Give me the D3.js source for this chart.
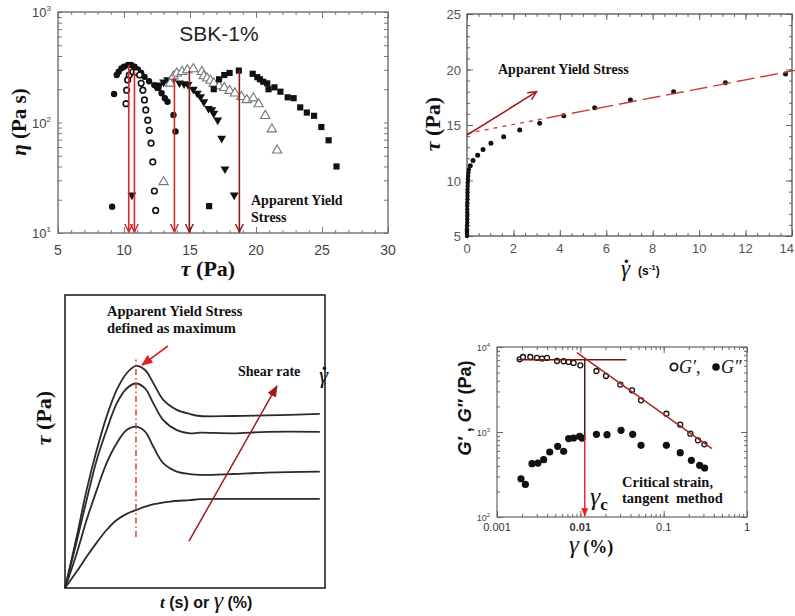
<!DOCTYPE html>
<html>
<head>
<meta charset="utf-8">
<script src="https://cdn.jsdelivr.net/npm/d3@7"></script>
<style>
  body { margin: 0; background: #fff; }
  .serif { font-family: "Liberation Serif", "Times New Roman", serif; font-weight: bold; }
  .sans { font-family: "Liberation Sans", Arial, sans-serif; }
</style>
</head>
<body>
<script>
// ---- Panel A: viscosity vs shear stress, SBK-1% ----
const tauFilled = [9.1, 9.25, 9.45, 9.6, 9.8, 10.0, 10.3, 10.55, 10.8, 11.05, 11.3, 11.55, 11.9, 12.3, 12.6, 12.85, 13.1, 13.3, 13.75, 13.9];
const etaFilled = [17.3, 181, 269, 288, 309, 320, 331, 331, 320, 302, 281, 259, 236, 218, 205, 184, 166, 154, 117, 83];
const tauOpen = [10.15, 10.2, 10.28, 10.4, 10.67, 10.92, 11.18, 11.3, 11.43, 11.55, 11.65, 11.8, 11.92, 12.05, 12.18, 12.3, 12.4];
const etaOpen = [148, 196, 243, 269, 288, 285, 269, 226, 196, 160, 130, 105, 85, 65, 44, 24, 16];
const tauDown = [10.6, 12.4, 12.7, 13.0, 13.3, 13.8, 14.2, 14.55, 14.85, 15.25, 15.55, 15.8, 16.05, 16.4, 16.65, 16.8, 17.1, 17.4, 17.65, 18.35];
const etaDown = [22, 212, 218, 232, 243, 252, 228, 224, 220, 200, 184, 171, 154, 134, 130, 121, 105, 72, 38, 22];
const tauUp = [13.0, 13.5, 13.75, 14.0, 14.4, 14.8, 15.25, 15.9, 16.05, 16.3, 16.55, 16.8, 17.2, 17.6, 18.0, 18.4, 18.9, 19.3, 19.8, 20.2, 20.7, 21.2, 21.6];
const etaUp = [29, 226, 262, 279, 288, 298, 305, 288, 263, 251, 240, 226, 213, 206, 194, 184, 171, 160, 166, 147, 115, 87, 56];
const tauSquare = [16.45, 16.8, 17.2, 17.6, 18.0, 18.7, 19.75, 20.1, 20.3, 20.55, 20.85, 20.95, 21.4, 21.85, 22.4, 22.85, 23.35, 23.85, 24.4, 24.95, 25.5, 26.1];
const etaSquare = [17.5, 200, 246, 269, 281, 295, 276, 257, 246, 234, 226, 200, 208, 190, 169, 166, 137, 123, 115, 91, 69, 40];
const yieldTau = [10.36, 10.79, 13.82, 14.95, 18.74];
const yieldEta = [331, 288, 259, 295, 298];
const tauTicks = [5, 10, 15, 20, 25, 30];

// ---- Panel B: flow curve ----
const rateLow = [0.0, 0.0, 0.0, 0.0, 0.0, 0.01, 0.01, 0.01, 0.01, 0.01, 0.01, 0.01, 0.02, 0.02, 0.02, 0.02, 0.03, 0.03, 0.04, 0.05, 0.06, 0.08];
const stressLow = [5.0, 5.2, 5.4, 5.6, 5.9, 6.2, 6.5, 6.8, 7.1, 7.4, 7.7, 8.0, 8.3, 8.6, 8.9, 9.2, 9.5, 9.8, 10.1, 10.4, 10.7, 11.0];
const rateHigh = [0.14, 0.26, 0.46, 0.69, 1.03, 1.58, 2.27, 3.13, 4.17, 5.5, 7.04, 8.9, 11.13, 13.72];
const stressHigh = [11.34, 11.8, 12.27, 12.8, 13.35, 13.95, 14.55, 15.15, 15.84, 16.56, 17.25, 18.0, 18.8, 19.6];
const fitRate = [0, 3.5, 14.2];
const fitStress = [14.25, 15.65, 19.95];
const arrowRate = [0, 3.0];
const arrowStress = [14.1, 18.0];
const rateTicks = [0, 2, 4, 6, 8, 10, 12, 14];
const stressTicks = [5, 10, 15, 20, 25];

// ---- Panel C: stress growth curves (arbitrary units) ----
const tC = [0, 0.45, 0.83, 1.22, 1.6, 1.99, 2.37, 2.73, 3.08, 3.4, 3.78, 4.3, 4.8, 5.2, 6.46, 7.77, 9.8];
const curve1 = [0, 1.75, 3.34, 4.71, 5.85, 6.76, 7.33, 7.58, 7.44, 6.99, 6.42, 6.08, 5.94, 5.87, 5.87, 5.89, 5.94];
const curve2 = [0, 1.59, 3.0, 4.37, 5.39, 6.3, 6.81, 6.98, 6.81, 6.3, 5.73, 5.39, 5.28, 5.3, 5.28, 5.33, 5.33];
const curve3 = [0, 1.18, 2.32, 3.34, 4.26, 4.94, 5.39, 5.51, 5.34, 4.82, 4.26, 3.97, 3.89, 3.86, 3.89, 3.94, 3.97];
const tC4 = [0, 0.45, 0.83, 1.22, 1.6, 1.99, 2.37, 2.73, 3.27, 4.04, 4.8, 5.2, 6.46, 9.8];
const curve4 = [0, 0.56, 1.07, 1.55, 1.98, 2.32, 2.53, 2.66, 2.83, 2.95, 3.0, 3.03, 3.04, 3.04];
const peakLineT = [2.73, 2.73];
const peakLineS = [1.74, 7.8];
const peakArrowT = [3.96, 2.96];
const peakArrowS = [8.26, 7.61];
const rateArrowT = [4.77, 8.15];
const rateArrowS = [1.6, 6.89];

// ---- Panel D: amplitude sweep ----
const strainG1 = [0.00187, 0.00205, 0.00251, 0.00302, 0.00347, 0.00398, 0.00525, 0.0063, 0.00724, 0.0083, 0.01, 0.0156, 0.0203, 0.0302, 0.0417, 0.0535, 0.1077, 0.158, 0.209, 0.258, 0.308];
const gPrime = [7160, 7630, 7630, 7430, 7300, 7430, 6840, 6800, 6670, 6490, 6090, 5220, 4560, 3610, 3090, 2360, 1640, 1220, 955, 798, 716];
const strainG2 = [0.00194, 0.00219, 0.00263, 0.0031, 0.00363, 0.00429, 0.00535, 0.0063, 0.00724, 0.0083, 0.0098, 0.0105, 0.0156, 0.0209, 0.0308, 0.0425, 0.0535, 0.1077, 0.158, 0.215, 0.27, 0.31];
const gDouble = [282, 242, 424, 431, 473, 582, 678, 593, 836, 850, 889, 849, 939, 931, 1047, 939, 697, 697, 571, 464, 405, 377];
const plateauStrain = [0.00174, 0.0357];
const plateauG = [7100, 7100];
const slopeStrain = [0.0091, 0.38];
const slopeG = [8580, 637];
const critStrain = 0.0113;
const critSplitG = [7100, 900, 103];
const strainTicks = [0.001, 0.01, 0.1, 1];
const modTicks = [100, 1000, 10000];

const W = 795, H = 616;
const svg = d3.select("body").append("svg").attr("width", W).attr("height", H)
  .style("background", "#fff");
const defs = svg.append("defs");

function marker(id, color, open, w, h) {
  const m = defs.append("marker").attr("id", id)
    .attr("viewBox", "0 -5 10 10").attr("refX", 9.5).attr("refY", 0)
    .attr("markerUnits", "userSpaceOnUse")
    .attr("markerWidth", w).attr("markerHeight", h).attr("orient", "auto");
  m.append("path")
    .attr("d", open ? "M0,-4.5L9.5,0L0,4.5" : "M0,-4L10,0L0,4Z")
    .attr("fill", open ? "none" : color)
    .attr("stroke", color).attr("stroke-width", open ? 1.6 : 0.5);
}
marker("vRed", "#d42a2a", true, 9, 9);
marker("vDark", "#8e1b1b", true, 9, 9);
marker("thinRed", "#b01818", true, 11, 9);
marker("headRed", "#e02020", false, 11, 11);
marker("headDark", "#9b1b1b", false, 11, 11);
marker("headSmall", "#e52020", false, 9, 8);

// inward tick marks on one side of a frame
function ticksIn(g, scale, orient, values, size, pos, color) {
  const fn = { bottom: d3.axisBottom, top: d3.axisTop, left: d3.axisLeft, right: d3.axisRight }[orient];
  const ax = fn(scale).tickValues(values).tickSize(-size).tickFormat("");
  const horiz = orient === "bottom" || orient === "top";
  const a = g.append("g").attr("transform", horiz ? `translate(0,${pos})` : `translate(${pos},0)`).call(ax);
  a.select(".domain").remove();
  a.selectAll("line").attr("stroke", color).attr("stroke-width", 1);
}

function box(g, x, y, color, width) {
  const [x0, x1] = x.range(), [y0, y1] = y.range();
  g.append("rect").attr("x", Math.min(x0, x1)).attr("y", Math.min(y0, y1))
    .attr("width", Math.abs(x1 - x0)).attr("height", Math.abs(y1 - y0))
    .attr("fill", "none").attr("stroke", color).attr("stroke-width", width);
}

function pts(xs, ys) { return xs.map((d, i) => [d, ys[i]]); }

function symbols(g, data, x, y, type, size, fill, stroke, sw, rot) {
  g.append("g").selectAll("path").data(data).join("path")
    .attr("d", d3.symbol(type, size))
    .attr("transform", d => `translate(${x(d[0])},${y(d[1])}) rotate(${rot || 0})`)
    .attr("fill", fill).attr("stroke", stroke).attr("stroke-width", sw);
}

function dots(g, data, x, y, r, fill, stroke, sw) {
  g.append("g").selectAll("circle").data(data).join("circle")
    .attr("cx", d => x(d[0])).attr("cy", d => y(d[1])).attr("r", r)
    .attr("fill", fill).attr("stroke", stroke).attr("stroke-width", sw);
}

function seg(g, x, y, xs, ys, color, width, dash, mark) {
  const l = g.append("path").attr("d", d3.line().x(d => x(d[0])).y(d => y(d[1]))(pts(xs, ys)))
    .attr("fill", "none").attr("stroke", color).attr("stroke-width", width);
  if (dash) l.attr("stroke-dasharray", dash);
  if (mark) l.attr("marker-end", `url(#${mark})`);
  return l;
}

// gamma with an over-dot, one text element
function gammaDot(g, gx, gy, size) {
  const t = g.append("text").attr("x", gx).attr("y", gy).attr("font-size", size)
    .attr("font-family", "Liberation Serif, serif").attr("fill", "#111");
  t.append("tspan").attr("font-style", "italic").text("γ");
  t.append("tspan").attr("dx", -size * 0.33).attr("font-weight", "bold").text("˙");
}

// ================= Panel A =================
{
  const g = svg.append("g");
  const x = d3.scaleLinear().domain([5, 30]).range([58, 388]);
  const y = d3.scaleLog().domain([10, 1000]).range([233, 12]);
  const c = "#777";
  ticksIn(g, x, "bottom", d3.range(5, 30.01, 1), 3, 233, c);
  ticksIn(g, x, "bottom", tauTicks, 6, 233, c);
  ticksIn(g, x, "top", d3.range(5, 30.01, 1), 3, 12, c);
  ticksIn(g, x, "top", tauTicks, 6, 12, c);
  ticksIn(g, y, "left", y.ticks(), 4, 58, c);
  ticksIn(g, y, "right", y.ticks(), 4, 388, c);
  box(g, x, y, "#666", 1.3);

  g.selectAll(".xt").data(tauTicks).join("text").attr("class", "sans")
    .attr("x", d => x(d)).attr("y", 255).attr("text-anchor", "middle")
    .attr("font-size", 14).attr("fill", "#444").text(d => d);
  const yl = g.selectAll(".yt").data([1000, 100, 10]).join("text").attr("class", "sans")
    .attr("x", 51).attr("y", d => y(d) + 5).attr("text-anchor", "end")
    .attr("font-size", 13).attr("fill", "#444");
  yl.append("tspan").text("10");
  yl.append("tspan").attr("dy", -6).attr("font-size", 8).text(d => ({ 1000: "3", 100: "2", 10: "1" })[d]);

  g.append("text").attr("class", "sans").attr("x", 219).attr("y", 41)
    .attr("text-anchor", "middle").attr("font-size", 21).attr("fill", "#222").text("SBK-1%");

  dots(g, pts(tauFilled, etaFilled), x, y, 3.2, "#111", "none", 0);
  dots(g, pts(tauOpen, etaOpen), x, y, 2.8, "#fff", "#111", 1.6);
  symbols(g, pts(tauDown, etaDown), x, y, d3.symbolTriangle, 34, "#111", "none", 0, 180);
  symbols(g, pts(tauUp, etaUp), x, y, d3.symbolTriangle, 38, "#fff", "#777", 1.1, 0);
  symbols(g, pts(tauSquare, etaSquare), x, y, d3.symbolSquare, 38, "#111", "none", 0, 0);

  yieldTau.forEach((t, i) => {
    const dark = i >= 3;
    seg(g, x, y, [t, t], [yieldEta[i], 10.2], dark ? "#8e1b1b" : "#d42a2a", 1.6, null, dark ? "vDark" : "vRed");
  });

  const ann = g.append("text").attr("class", "serif").attr("font-size", 14).attr("fill", "#111");
  ann.append("tspan").attr("x", 251).attr("y", 205).text("Apparent Yield");
  ann.append("tspan").attr("x", 251).attr("y", 222).text("Stress");

  const xl = g.append("text").attr("class", "serif").attr("x", 208).attr("y", 276)
    .attr("text-anchor", "middle").attr("font-size", 22).attr("fill", "#111");
  xl.append("tspan").attr("font-style", "italic").text("τ");
  xl.append("tspan").text(" (Pa)");
  const ylab = g.append("text").attr("class", "serif").attr("transform", "translate(26,122) rotate(-90)")
    .attr("text-anchor", "middle").attr("font-size", 21).attr("fill", "#111");
  ylab.append("tspan").attr("font-style", "italic").text("η");
  ylab.append("tspan").text(" (Pa s)");
}

// ================= Panel B =================
{
  const g = svg.append("g");
  const x = d3.scaleLinear().domain([0, 14]).range([467, 792]);
  const y = d3.scaleLinear().domain([5, 25]).range([236, 14]);
  const c = "#666";
  ticksIn(g, x, "bottom", d3.range(0, 14.01, 0.5), 3, 236, c);
  ticksIn(g, x, "bottom", rateTicks, 6, 236, c);
  ticksIn(g, x, "top", d3.range(0, 14.01, 0.5), 3, 14, c);
  ticksIn(g, x, "top", rateTicks, 6, 14, c);
  ticksIn(g, y, "left", d3.range(5, 25.01, 1), 3, 467, c);
  ticksIn(g, y, "left", stressTicks, 6, 467, c);
  ticksIn(g, y, "right", d3.range(5, 25.01, 1), 3, 792, c);
  ticksIn(g, y, "right", stressTicks, 6, 792, c);
  box(g, x, y, "#555", 1.3);

  g.selectAll(".xt").data(rateTicks).join("text").attr("class", "sans")
    .attr("x", d => d === 14 ? W - 1 : x(d)).attr("y", 253)
    .attr("text-anchor", d => d === 14 ? "end" : "middle")
    .attr("font-size", 13).attr("fill", "#555").text(d => d);
  g.selectAll(".yt").data(stressTicks).join("text").attr("class", "sans")
    .attr("x", 461).attr("y", d => y(d) + 5).attr("text-anchor", "end")
    .attr("font-size", 13).attr("fill", "#555").text(d => d);

  dots(g, pts(rateLow, stressLow), x, y, 2.2, "#111", "none", 0);
  dots(g, pts(rateHigh, stressHigh), x, y, 2.5, "#111", "none", 0);

  seg(g, x, y, fitRate.slice(0, 2), fitStress.slice(0, 2), "#d04848", 1.4, "4,5");
  seg(g, x, y, fitRate.slice(1), fitStress.slice(1), "#c83a3a", 1.4, "18,6");
  seg(g, x, y, arrowRate, arrowStress, "#a81818", 1.5, null, "thinRed");

  g.append("text").attr("class", "serif").attr("x", 498).attr("y", 74)
    .attr("font-size", 14).attr("fill", "#111").text("Apparent Yield Stress");

  const ylab = g.append("text").attr("class", "serif").attr("transform", "translate(440,124) rotate(-90)")
    .attr("text-anchor", "middle").attr("font-size", 22).attr("fill", "#111");
  ylab.append("tspan").attr("font-style", "italic").text("τ");
  ylab.append("tspan").text(" (Pa)");
  gammaDot(g, 621, 276, 23);
  const u = g.append("text").attr("class", "sans").attr("x", 638).attr("y", 275)
    .attr("font-size", 12).attr("font-weight", "bold").attr("fill", "#111");
  u.append("tspan").text("(s");
  u.append("tspan").attr("dy", -5).attr("font-size", 8).text("-1");
  u.append("tspan").attr("dy", 5).text(")");
}

// ================= Panel C =================
{
  const g = svg.append("g");
  const x = d3.scaleLinear().domain([0, 10]).range([65, 325]);
  const y = d3.scaleLinear().domain([0, 10]).range([588, 295]);
  box(g, x, y, "#222", 1.6);
  const line = d3.line().x(d => x(d[0])).y(d => y(d[1])).curve(d3.curveCatmullRom.alpha(0.5));
  [[tC, curve1], [tC, curve2], [tC, curve3], [tC4, curve4]].forEach(([ts, vs]) => {
    g.append("path").attr("d", line(pts(ts, vs))).attr("fill", "none")
      .attr("stroke", "#2a2a2a").attr("stroke-width", 1.8);
  });
  seg(g, x, y, peakLineT, peakLineS, "#d83030", 1.4, "6,3,1.5,3");
  seg(g, x, y, peakArrowT, peakArrowS, "#e02020", 1.6, null, "headRed");
  seg(g, x, y, rateArrowT, rateArrowS, "#9b1b1b", 1.5, null, "headDark");

  const ann = g.append("text").attr("class", "serif").attr("font-size", 14.5).attr("fill", "#111");
  ann.append("tspan").attr("x", 107).attr("y", 316).text("Apparent Yield Stress");
  ann.append("tspan").attr("x", 107).attr("y", 333).text("defined as maximum");
  g.append("text").attr("class", "serif").attr("x", 238).attr("y", 376)
    .attr("font-size", 14).attr("fill", "#111").text("Shear rate");
  gammaDot(g, 319, 383, 23);

  const ylab = g.append("text").attr("class", "serif").attr("transform", "translate(51,418) rotate(-90)")
    .attr("text-anchor", "middle").attr("font-size", 22).attr("fill", "#111");
  ylab.append("tspan").attr("font-style", "italic").text("τ");
  ylab.append("tspan").text(" (Pa)");
  const xl = g.append("text").attr("y", 608).attr("fill", "#111");
  xl.append("tspan").attr("x", 160).attr("class", "serif").attr("font-style", "italic").attr("font-size", 17).text("t");
  xl.append("tspan").attr("class", "sans").attr("font-weight", "bold").attr("font-size", 16).text(" (s) or ");
  xl.append("tspan").attr("font-family", "Liberation Serif, serif").attr("font-style", "italic").attr("font-size", 24).text("γ");
  xl.append("tspan").attr("class", "sans").attr("font-weight", "bold").attr("font-size", 16).text(" (%)");
}

// ================= Panel D =================
{
  const g = svg.append("g");
  const x = d3.scaleLog().domain([0.001, 1]).range([497, 747]);
  const y = d3.scaleLog().domain([100, 10000]).range([517, 347]);
  const c = "#666";
  ticksIn(g, x, "bottom", x.ticks(), 3, 517, c);
  ticksIn(g, x, "bottom", strainTicks, 6, 517, c);
  ticksIn(g, x, "top", x.ticks(), 3, 347, c);
  ticksIn(g, x, "top", strainTicks, 6, 347, c);
  ticksIn(g, y, "left", y.ticks(), 3, 497, c);
  ticksIn(g, y, "left", modTicks, 6, 497, c);
  ticksIn(g, y, "right", y.ticks(), 3, 747, c);
  ticksIn(g, y, "right", modTicks, 6, 747, c);
  box(g, x, y, "#666", 1.2);

  g.selectAll(".xt").data(strainTicks).join("text").attr("class", "sans")
    .attr("x", d => x(d)).attr("y", 531).attr("text-anchor", "middle")
    .attr("font-size", 11).attr("font-weight", d => d === 0.01 ? "bold" : "normal")
    .attr("fill", "#333").text(d => d);
  const yl = g.selectAll(".yt").data(modTicks).join("text").attr("class", "sans")
    .attr("x", 490).attr("y", d => y(d) + 4).attr("text-anchor", "end")
    .attr("font-size", 9).attr("fill", "#444");
  yl.append("tspan").text("10");
  yl.append("tspan").attr("dy", -4).attr("font-size", 6).text(d => Math.round(Math.log10(d)));

  dots(g, pts(strainG2, gDouble), x, y, 3.6, "#111", "none", 0);
  dots(g, pts(strainG1, gPrime), x, y, 2.5, "#fff", "#111", 1.3);

  seg(g, x, y, plateauStrain, plateauG, "#7a1414", 1.5);
  seg(g, x, y, slopeStrain, slopeG, "#a82626", 1.5);
  seg(g, x, y, [critStrain, critStrain], critSplitG.slice(0, 2), "#3a0c0c", 1.4);
  seg(g, x, y, [critStrain, critStrain], critSplitG.slice(1), "#e52020", 1.4, null, "headSmall");

  // legend
  g.append("circle").attr("cx", 674).attr("cy", 367).attr("r", 3.6)
    .attr("fill", "#fff").attr("stroke", "#111").attr("stroke-width", 1.8);
  g.append("circle").attr("cx", 716).attr("cy", 367).attr("r", 3.8).attr("fill", "#111");
  const lg = g.append("text").attr("y", 373).attr("font-family", "Liberation Serif, serif")
    .attr("font-size", 18).attr("fill", "#111");
  lg.append("tspan").attr("x", 679).attr("font-style", "italic").text("G′");
  lg.append("tspan").text(",");
  lg.append("tspan").attr("x", 721).attr("font-style", "italic").text("G″");

  const ann = g.append("text").attr("class", "serif").attr("font-size", 14.5).attr("fill", "#111");
  ann.append("tspan").attr("x", 622).attr("y", 487).text("Critical strain,");
  ann.append("tspan").attr("x", 622).attr("y", 503).attr("style", "white-space:pre").text("tangent  method");
  const gc = g.append("text").attr("x", 590).attr("y", 505).attr("fill", "#111");
  gc.append("tspan").attr("font-family", "Liberation Serif, serif").attr("font-style", "italic").attr("font-size", 26).text("γ");
  gc.append("tspan").attr("class", "serif").attr("font-size", 17).attr("dy", 5).text("c");

  const ylab = g.append("text").attr("class", "sans").attr("transform", "translate(471,408) rotate(-90)")
    .attr("text-anchor", "middle").attr("font-size", 18).attr("font-weight", "bold").attr("fill", "#111");
  ylab.append("tspan").attr("font-style", "italic").text("G′");
  ylab.append("tspan").text(" , ");
  ylab.append("tspan").attr("font-style", "italic").text("G″");
  ylab.append("tspan").text(" (Pa)");
  const xl = g.append("text").attr("y", 553).attr("fill", "#111");
  xl.append("tspan").attr("x", 569).attr("font-family", "Liberation Serif, serif").attr("font-style", "italic").attr("font-size", 25).text("γ");
  xl.append("tspan").attr("class", "serif").attr("font-size", 18).text(" (%)");
}
</script>
</body>
</html>
